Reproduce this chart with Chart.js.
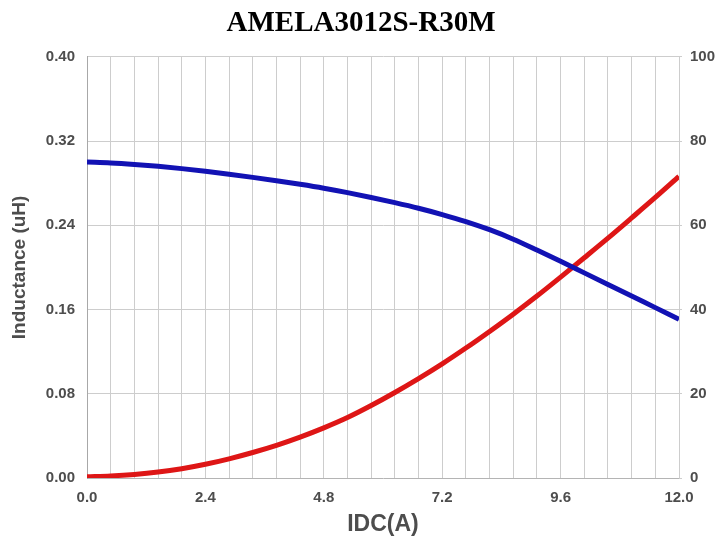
<!DOCTYPE html>
<html>
<head>
<meta charset="utf-8">
<title>AMELA3012S-R30M</title>
<script src="https://cdn.jsdelivr.net/npm/chart.js@4.4.1/dist/chart.umd.min.js"></script>
<style>
  html, body { margin: 0; padding: 0; background: #fff; }
  #wrap { width: 722px; height: 538px; }
</style>
</head>
<body>
<div id="wrap"><canvas id="chart" width="722" height="538"></canvas></div>
<script>
// Values.
var chartTitle = 'AMELA3012S-R30M';
var idcValues = [0, 0.48, 0.96, 1.44, 1.92, 2.4, 2.88, 3.36, 3.84, 4.32, 4.8, 5.28, 5.76,
  6.24, 6.72, 7.2, 7.68, 8.16, 8.64, 9.12, 9.6, 10.08, 10.56, 11.04, 11.52, 12.0];
var inductance = [0.3000, 0.2992, 0.2978, 0.2960, 0.2938, 0.2913, 0.2885, 0.2855, 0.2823,
  0.2789, 0.2752, 0.2710, 0.2664, 0.2615, 0.2562, 0.2502, 0.2435, 0.2358, 0.2268, 0.2165,
  0.2058, 0.1948, 0.1838, 0.1728, 0.1618, 0.1508];
var tempRise = [0.3, 0.5, 0.85, 1.4, 2.2, 3.25, 4.55, 6.05, 7.75, 9.7, 11.9, 14.35, 17.2,
  20.3, 23.6, 27.1, 30.85, 34.8, 38.9, 43.2, 47.7, 52.3, 56.95, 61.75, 66.6, 71.6];
var xTickLabels = ['0.0', '2.4', '4.8', '7.2', '9.6', '12.0'];
var leftTickLabels = ['0.00', '0.08', '0.16', '0.24', '0.32', '0.40'];
var rightTickLabels = ['0', '20', '40', '60', '80', '100'];

var tickFont = { family: "'Liberation Sans', Arial, sans-serif", size: 15, weight: 'bold' };
var tickColor = '#4d4d4d';

function toPoints(xs, ys) {
  return xs.map(function (x, i) { return { x: x, y: ys[i] }; });
}

new Chart(document.getElementById('chart'), {
  type: 'line',
  data: {
    datasets: [
      {
        label: 'Inductance',
        data: toPoints(idcValues, inductance),
        borderColor: 'rgb(18, 18, 180)',
        borderWidth: 5,
        pointRadius: 0,
        tension: 0.4,
        cubicInterpolationMode: 'monotone',
        yAxisID: 'y'
      },
      {
        label: 'Temperature rise',
        data: toPoints(idcValues, tempRise),
        borderColor: 'rgb(222, 22, 22)',
        borderWidth: 5,
        pointRadius: 0,
        tension: 0.4,
        cubicInterpolationMode: 'monotone',
        yAxisID: 'y1'
      }
    ]
  },
  options: {
    responsive: false,
    animation: false,
    devicePixelRatio: 1,
    layout: { padding: 0 },
    plugins: {
      legend: { display: false },
      tooltip: { enabled: false },
      title: {
        display: true,
        text: chartTitle,
        color: '#000',
        font: { family: "'Liberation Serif', 'Times New Roman', serif", size: 29, weight: 'bold', lineHeight: 1.2 },
        padding: { top: 6, bottom: 16 }
      }
    },
    scales: {
      x: {
        type: 'linear',
        min: 0,
        max: 12,
        afterBuildTicks: function (scale) {
          scale.ticks = idcValues.map(function (v) { return { value: v }; });
        },
        afterFit: function (scale) { scale.height = 60; },
        grid: {
          drawTicks: false,
          color: function (ctx) { return ctx.index === 0 ? '#a8a8a8' : '#cdcdcd'; },
          lineWidth: 1
        },
        border: { display: false },
        ticks: {
          autoSkip: false,
          maxRotation: 0,
          padding: 11,
          color: tickColor,
          font: tickFont,
          callback: function (v, i) { return i % 5 === 0 ? xTickLabels[i / 5] : ''; }
        },
        title: {
          display: true,
          text: 'IDC(A)',
          color: '#4d4d4d',
          font: { family: "'Liberation Sans', Arial, sans-serif", size: 23, weight: 'bold', lineHeight: 1 },
          padding: { top: 0, bottom: 2 }
        }
      },
      y: {
        type: 'linear',
        position: 'left',
        min: 0,
        max: 0.4,
        afterBuildTicks: function (scale) {
          scale.ticks = leftTickLabels.map(function (s) { return { value: parseFloat(s) }; });
        },
        afterFit: function (scale) { scale.width = 87; },
        grid: {
          drawTicks: false,
          color: function (ctx) { return ctx.index === 0 ? '#b4b4b4' : '#cdcdcd'; }
        },
        border: { display: true, color: '#a8a8a8' },
        ticks: {
          padding: 12,
          color: tickColor,
          font: tickFont,
          callback: function (v, i) { return leftTickLabels[i]; }
        },
        title: {
          display: true,
          text: 'Inductance (uH)',
          color: '#4d4d4d',
          font: { family: "'Liberation Sans', Arial, sans-serif", size: 19, weight: 'bold', lineHeight: 1 },
          padding: { top: 10, bottom: 0 }
        }
      },
      y1: {
        type: 'linear',
        position: 'right',
        min: 0,
        max: 100,
        afterBuildTicks: function (scale) {
          scale.ticks = rightTickLabels.map(function (s) { return { value: parseFloat(s) }; });
        },
        afterFit: function (scale) { scale.width = 43; },
        grid: { drawOnChartArea: false, drawTicks: true, tickLength: 3, color: '#cdcdcd' },
        border: { display: false },
        ticks: {
          padding: 8,
          color: tickColor,
          font: tickFont,
          callback: function (v, i) { return rightTickLabels[i]; }
        }
      }
    }
  }
});
</script>
</body>
</html>
